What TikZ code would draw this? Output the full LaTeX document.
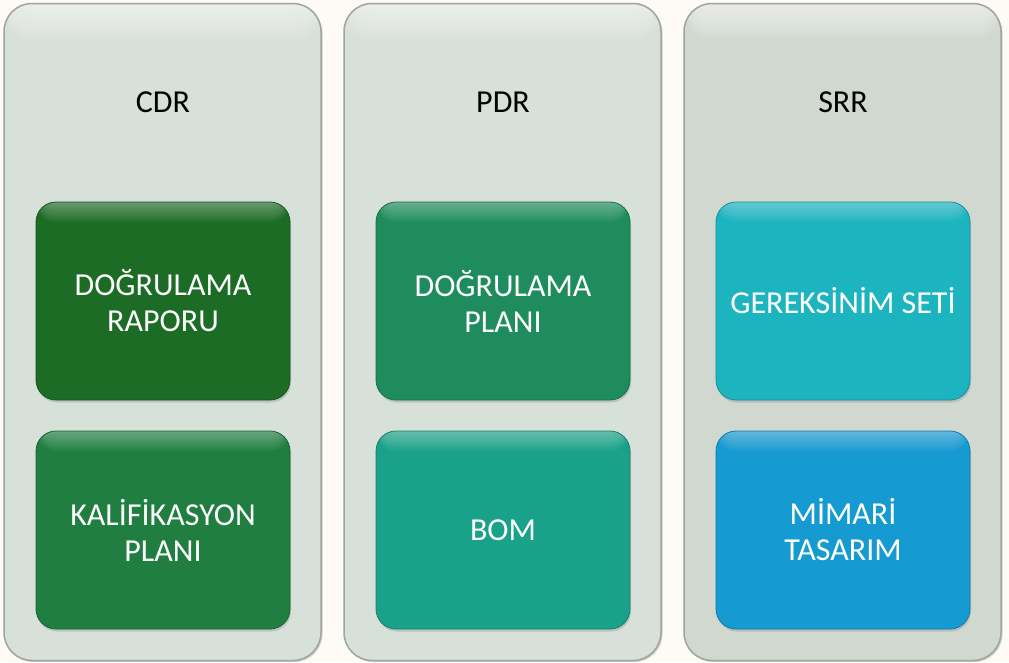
\documentclass[tikz,border=0pt]{standalone}
\usepackage{fontspec}
\setmainfont{Carlito}
\usetikzlibrary{shadows}
\definecolor{bg}{HTML}{FEFAF6}
\definecolor{panelfill}{HTML}{D8E1D9}
\definecolor{panelfillB}{HTML}{D0D8D0}
\definecolor{paneledge}{HTML}{9EA49E}
\definecolor{cA}{HTML}{1D6C26}
\definecolor{cB}{HTML}{1F7E40}
\definecolor{cC}{HTML}{1E8C5D}
\definecolor{cD}{HTML}{1AA189}
\definecolor{cE}{HTML}{1BB4BF}
\definecolor{cF}{HTML}{169AD2}
\tikzset{
  panel/.style={draw=paneledge, line width=1.5pt, rounded corners=28pt,
    minimum width=317pt, minimum height=657pt, inner sep=0pt, fill=#1,
    path picture={\foreach \i in {1,...,12}
      \fill[white, opacity=0.07] ([yshift=2pt]path picture bounding box.north west)
        rectangle ([yshift=-\i*3pt]path picture bounding box.north east);},
    drop shadow={shadow xshift=1.5pt, shadow yshift=-1.5pt, opacity=0.35}},
  paneltitle/.style={font=\fontsize{32pt}{36pt}\selectfont, text=black},
  itembox/.style={draw=#1!80!black, line width=0.8pt, rounded corners=20pt,
    minimum width=254pt, minimum height=198pt, inner sep=0pt, fill=#1,
    path picture={\foreach \i in {1,...,10}
      \fill[white, opacity=0.04] ([yshift=2pt]path picture bounding box.north west)
        rectangle ([yshift=-\i*2pt]path picture bounding box.north east);},
    text=white, align=center, font=\fontsize{32pt}{36pt}\selectfont,
    drop shadow={shadow xshift=1pt, shadow yshift=-2.5pt, opacity=0.3}},
}
\begin{document}
\begin{tikzpicture}[x=1pt,y=-1pt]
\fill[bg] (0,0) rectangle (1009,662);
\useasboundingbox (0,0) rectangle (1009,662);
% panels
\node[panel=panelfill] (p1) at (162.5,332) {};
\node[panel=panelfill] (p2) at (502.5,332) {};
\node[panel=panelfillB] (p3) at (842.5,332) {};
% titles
\node[paneltitle] (t1) at (163,102) {CDR};
\node[paneltitle] (t2) at (503,102) {PDR};
\node[paneltitle] (t3) at (843,102) {SRR};
% boxes
\node[itembox=cA] (b1) at (163,301) {DOĞRULAMA\\RAPORU};
\node[itembox=cB] (b2) at (163,530) {KALİFİKASYON\\PLANI};
\node[itembox=cC] (b3) at (503,301) {DOĞRULAMA\\PLANI};
\node[itembox=cD] (b4) at (503,530) {BOM};
\node[itembox=cE] (b5) at (843,301) {GEREKSİNİM SETİ};
\node[itembox=cF] (b6) at (843,530) {MİMARİ\\TASARIM};
\end{tikzpicture}
\end{document}
